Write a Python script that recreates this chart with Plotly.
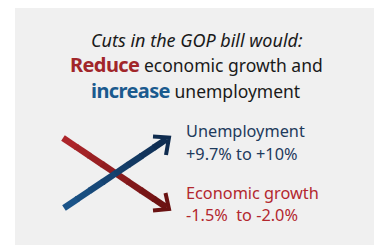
import numpy as np
import plotly.graph_objects as go

# ---- content ----
title_line1 = "Cuts in the GOP bill would:"
title_word2, title_rest2 = "Reduce", "economic growth and"
title_word3, title_rest3 = "increase", "unemployment"
series_names = ["Unemployment", "Economic growth"]
unemp_range = ["+9.7%", "+10%"]
growth_range = ["-1.5%", "-2.0%"]

RED = "#b1272c"
RED_DARK = "#6a1212"
BLUE = "#1b568c"
BLUE_DARK = "#0f2c4f"
NAVY_TXT = "#1e3a5c"
RED_TXT = "#b3272e"
FONT = "Noto Sans, Open Sans, sans-serif"

# page body adds an 8px margin: the figure fills the window from (8, 8)
OFF = 8
W, H = 382, 245
fig = go.Figure()

def hex2rgb(h):
    h = h.lstrip("#")
    return np.array([int(h[i:i + 2], 16) for i in (0, 2, 4)], float)

def arrow(x0, y0, x1, y1, c0, c1, arms, nseg=8):
    a, b = hex2rgb(c0), hex2rgb(c1)
    d = np.array([x1 - x0, y1 - y0]); L = np.hypot(*d); u = d / L
    ex, ey = x1 - 3 * u[0], y1 - 3 * u[1]
    ts = np.linspace(0, 1, nseg + 1)
    for i in range(nseg):
        t0, t1 = ts[i], min(ts[i + 1] + 0.01, 1)
        c = a + (b - a) * (ts[i] + ts[i + 1]) / 2
        fig.add_trace(go.Scatter(
            x=[x0 + (ex - x0) * t0, x0 + (ex - x0) * t1],
            y=[y0 + (ey - y0) * t0, y0 + (ey - y0) * t1],
            mode="lines", line=dict(color="rgb(%d,%d,%d)" % tuple(c), width=6.5),
            hoverinfo="skip", showlegend=False))
    (ax, ay), (bx, by) = arms
    fig.add_trace(go.Scatter(x=[ax, x1, bx], y=[ay, y1, by], mode="lines",
                             line=dict(color=c1, width=4), hoverinfo="skip",
                             showlegend=False))

arrow(63, 138, 169, 209, RED, RED_DARK, [(165.5, 193), (153, 210.5)])
arrow(64, 208, 169, 137.5, BLUE, BLUE_DARK, [(153, 136.5), (166, 155)])

ann = []
def text(x, y, s, size, color, anchor="center", family=FONT):
    ann.append(dict(x=x, y=y, xref="x", yref="y", text=s, showarrow=False,
                    xanchor=anchor, yanchor="middle",
                    font=dict(family=family, size=size, color=color)))

BOLD = "<span style=\"color:%s;font-size:20px;letter-spacing:-0.6px\"><b>%s</b></span> %s"
text(197, 40, "<i>" + title_line1 + "</i>", 18, "#1a1a1a")
text(196, 64, BOLD % ("#a1262a", title_word2, title_rest2), 17.5, "#1a1a1a")
text(195, 90, BOLD % ("#1a5a8e", title_word3, title_rest3), 17.5, "#1a1a1a")

text(184, 131, series_names[0], 16.3, NAVY_TXT, "left")
text(184, 154, "%s to %s" % tuple(unemp_range), 16.3, NAVY_TXT, "left")
text(184, 193, series_names[1], 16.3, RED_TXT, "left")
text(184, 215, "%s&nbsp; to %s" % tuple(growth_range), 16.3, RED_TXT, "left")

fig.update_layout(
    width=W - OFF, height=H - OFF, margin=dict(l=0, r=0, t=0, b=0),
    paper_bgcolor="white", plot_bgcolor="white",
    xaxis=dict(range=[OFF, W], visible=False, fixedrange=True),
    yaxis=dict(range=[H, OFF], visible=False, fixedrange=True),
    shapes=[dict(type="rect", xref="x", yref="y", x0=15, y0=5.5, x1=378, y1=250,
                 fillcolor="#f0f0f0", line=dict(width=0), layer="below")],
    annotations=ann,
)
fig.write_html("out.html", config={"displayModeBar": False})
